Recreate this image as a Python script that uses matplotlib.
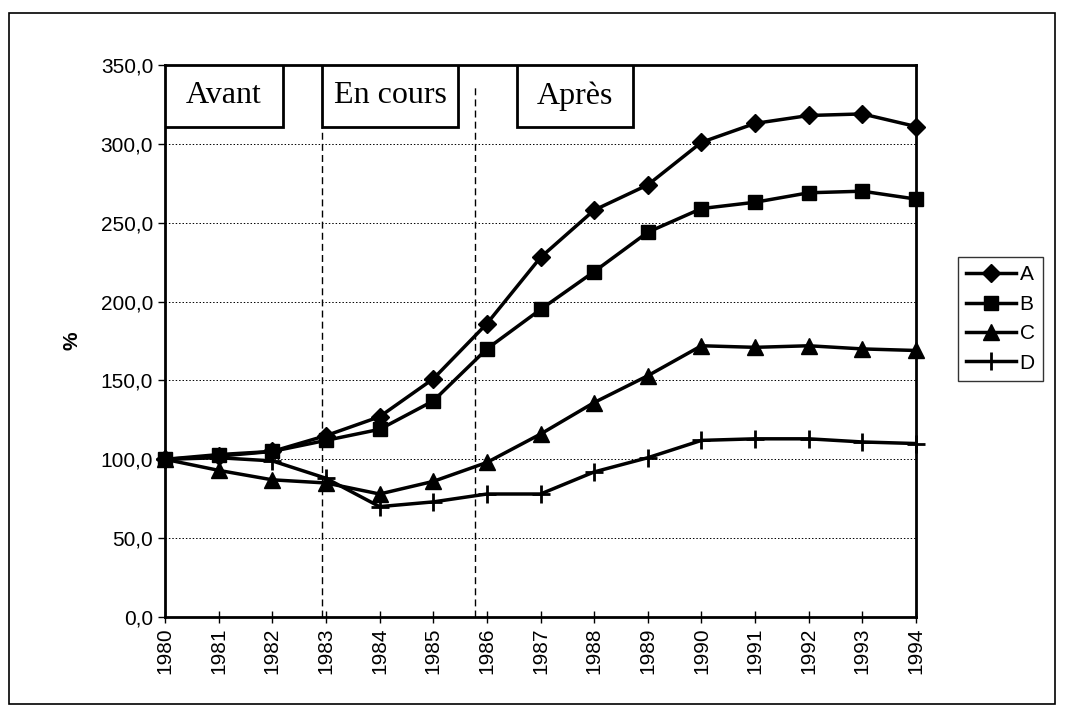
import matplotlib.pyplot as plt
from matplotlib.patches import Rectangle

# données (indice, 1980 = 100)
annees = list(range(1980, 1995))
serie_a = [100, 102, 105, 115, 127, 151, 186, 228, 258, 274, 301, 313, 318, 319, 311]
serie_b = [100, 103, 105, 112, 119, 137, 170, 195, 219, 244, 259, 263, 269, 270, 265]
serie_c = [100, 93, 87, 85, 78, 86, 98, 116, 136, 153, 172, 171, 172, 170, 169]
serie_d = [100, 101, 99, 88, 70, 73, 78, 78, 92, 101, 112, 113, 113, 111, 110]

# périodes
periodes = ['Avant', 'En cours', 'Après']
limites = [1982.93, 1985.78]

plt.rcParams['font.family'] = ['Liberation Sans', 'DejaVu Sans']

fig = plt.figure(figsize=(10.66, 7.13), dpi=100)
ax = fig.add_axes([0.1548, 0.1346, 0.7045, 0.7742])

# cadre extérieur
fig.patches.append(Rectangle((0.008, 0.013), 0.982, 0.969, transform=fig.transFigure,
                             fill=False, edgecolor='black', linewidth=1.2))

ax.plot(annees, serie_a, marker='D', markersize=9, label='A', color='black', linewidth=2.5, clip_on=False, zorder=5)
ax.plot(annees, serie_b, marker='s', markersize=10, label='B', color='black', linewidth=2.5, clip_on=False, zorder=5)
ax.plot(annees, serie_c, marker='^', markersize=11, label='C', color='black', linewidth=2.5, clip_on=False, zorder=5)
ax.plot(annees, serie_d, marker='+', markersize=13, markeredgewidth=2, label='D', color='black', linewidth=2.5,
        clip_on=False, zorder=5)

ax.set_xlim(1980, 1994)
ax.set_ylim(0, 350)
ax.set_xticks(annees)
ax.set_xticklabels([str(a) for a in annees], rotation=90)
ax.set_yticks(range(0, 351, 50))
ax.set_yticklabels([f'{v},0' for v in range(0, 351, 50)])
ax.tick_params(axis='both', labelsize=15, width=1, length=5)
ax.tick_params(axis='x', direction='inout', length=8)
ax.set_ylabel('%', fontsize=15, fontweight='bold', labelpad=14)

ax.yaxis.grid(True, linestyle=(0, (1.5, 2)), color='black', linewidth=0.7)
for s in ax.spines.values():
    s.set_linewidth(2)

# lignes verticales des périodes
ax.axvline(limites[0], ymin=0, ymax=0.888, color='black', linestyle=(0, (5, 3)), linewidth=1)
ax.axvline(limites[1], ymin=0, ymax=0.965, color='black', linestyle=(0, (5, 3)), linewidth=1)

# boîtes de titres
boites = [(0.0, 0.157), (0.209, 0.390), (0.469, 0.623)]
for nom, (x0, x1) in zip(periodes, boites):
    ax.add_patch(Rectangle((x0, 0.888), x1 - x0, 0.112, transform=ax.transAxes,
                           facecolor='white', edgecolor='black', linewidth=2, zorder=6))
    ax.text((x0 + x1) / 2, 0.944, nom, transform=ax.transAxes, ha='center', va='center',
            fontsize=23, family='Liberation Serif', zorder=7)

leg = ax.legend(loc='upper left', bbox_to_anchor=(1.056, 0.652), fontsize=15,
                frameon=True, fancybox=False, edgecolor='black', handlelength=2.4,
                handletextpad=0.15, borderpad=0.4, labelspacing=0.5, borderaxespad=0)
leg.get_frame().set_linewidth(1)

fig.savefig('out.png', dpi=100)
